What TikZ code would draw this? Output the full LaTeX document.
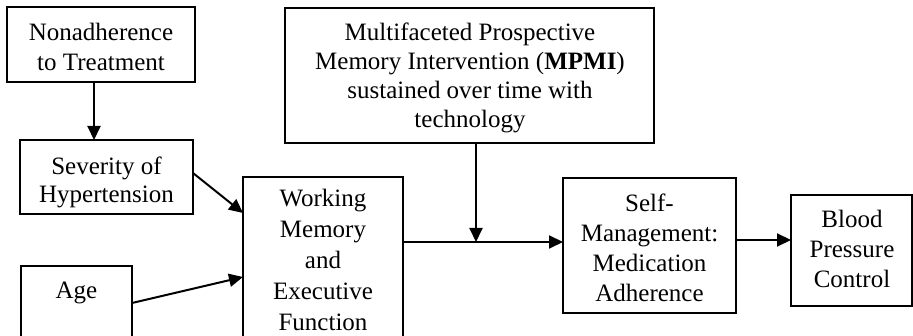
\documentclass[tikz,border=0pt]{standalone}
\usepackage{fontspec}
\setmainfont{Liberation Serif}
\usetikzlibrary{arrows.meta}
\begin{document}
\begin{tikzpicture}[x=1pt,y=-1pt,
  box/.style={draw, line width=1.3pt, inner sep=0pt, outer sep=0pt},
  lbl/.style={inner sep=0pt, align=center, anchor=base,
              font=\fontsize{25}{30}\selectfont},
  arr/.style={line width=2pt, -{Triangle[length=14pt,width=13pt]}}]
\useasboundingbox (0,0) rectangle (913,336);
\clip (0,0) rectangle (913,336);

% boxes
\node[box, minimum width=188, minimum height=75]  (nonadh) at (101,44.5)   {};
\node[box, minimum width=173, minimum height=74]  (sev)    at (106.5,177)  {};
\node[box, minimum width=111, minimum height=114] (age)    at (76.5,323)   {};
\node[box, minimum width=160, minimum height=203] (wm)     at (323,278.5)  {};
\node[box, minimum width=369, minimum height=135] (mpmi)   at (469.5,75.5) {};
\node[box, minimum width=173, minimum height=135] (self)   at (649.5,245.5){};
\node[box, minimum width=121, minimum height=111] (blood)  at (851.5,250.5){};

% box texts (positioned by the baseline of their last line)
\node[lbl] (tnonadh) at (101,71)  {Nonadherence\\to Treatment};
\node[lbl, font=\fontsize{25}{28}\selectfont] (tsev) at (106.5,203) {Severity of\\Hypertension};
\node[lbl] (tage)    at (76.5,299) {Age};
\node[lbl, font=\fontsize{25}{31}\selectfont] (twm) at (323,331)
  {Working\\Memory\\and\\Executive\\Function};
\node[lbl, font=\fontsize{25}{29}\selectfont] (tmpmi) at (470,128)
  {Multifaceted Prospective\\Memory Intervention (\textbf{MPMI})\\sustained over time with\\technology};
\node[lbl] (tself)   at (649.5,302) {Self-\\Management:\\Medication\\Adherence};
\node[lbl] (tblood)  at (852,288)   {Blood\\Pressure\\Control};

% connectors
\coordinate (join) at (476,242);
\draw[arr] ([xshift=-7pt]nonadh.south) -- ([xshift=-7pt]nonadh.south |- sev.north);
\draw[arr] ([yshift=4pt]sev.east) -- ([yshift=-36pt]wm.north west);
\draw[arr] ([yshift=-37pt]age.north east) -- ([yshift=-100pt]wm.north west);
\draw[arr] (wm.east |- join) -- (self.west |- join);
\draw[arr] (mpmi.south -| join) -- (join);
\draw[arr] ([yshift=-62pt]self.north east) -- ([yshift=-62pt]self.north east -| blood.west);
\end{tikzpicture}
\end{document}
